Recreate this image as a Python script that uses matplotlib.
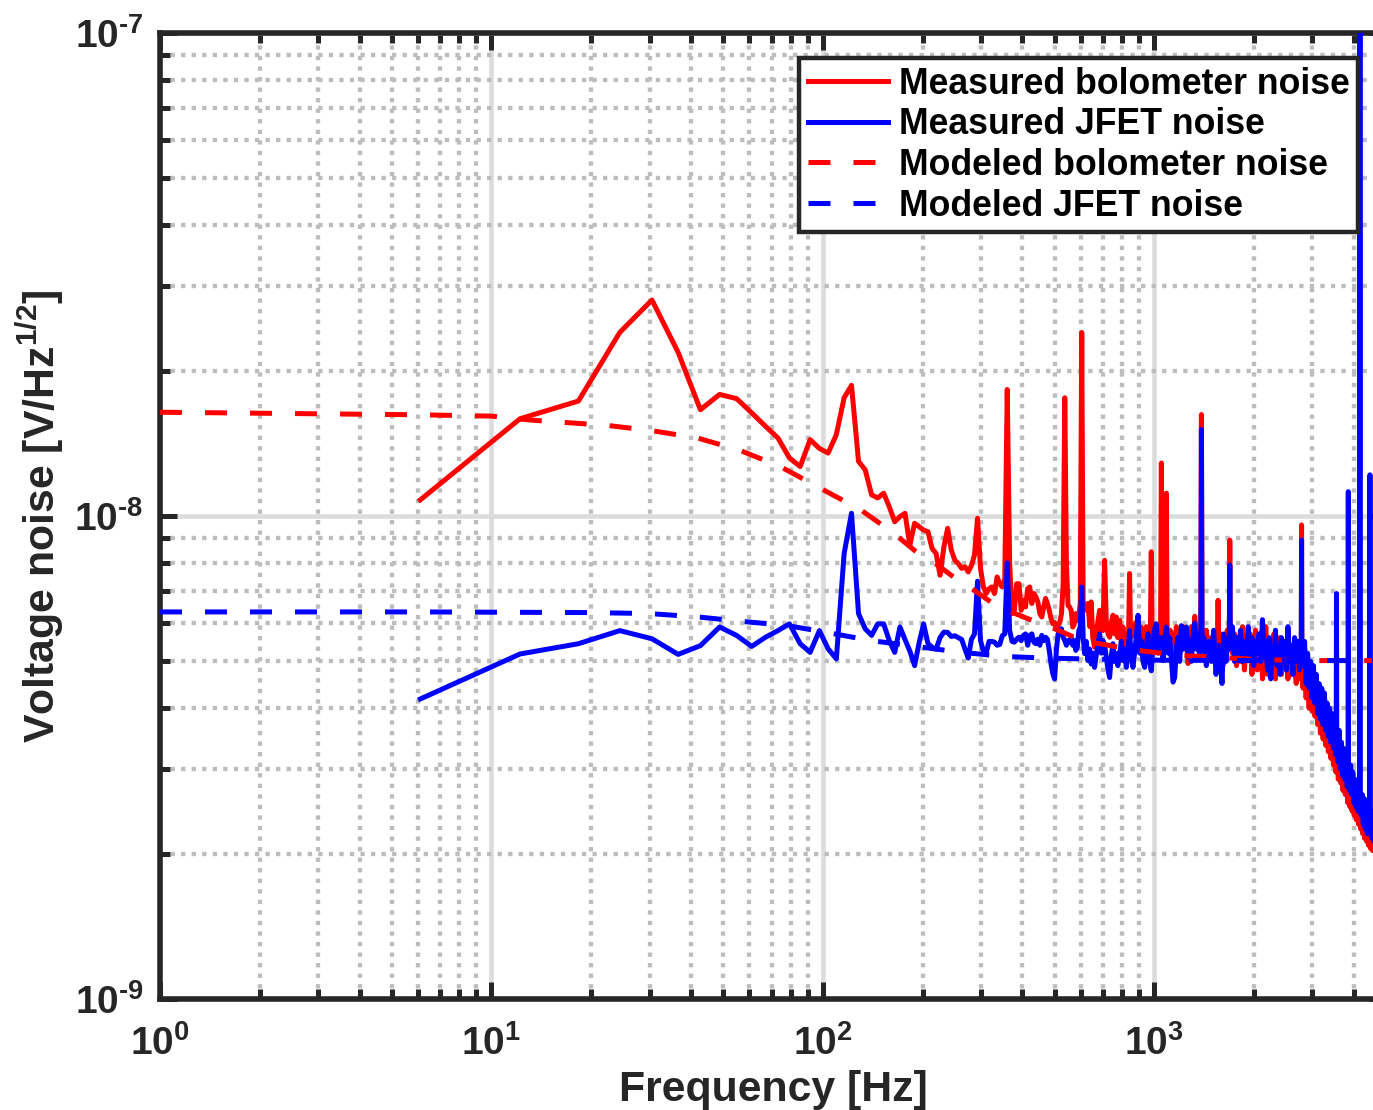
import matplotlib
matplotlib.use("Agg")
import matplotlib.pyplot as plt
import numpy as np
from matplotlib.ticker import LogLocator, NullFormatter, FuncFormatter

# ---------------- data (values in nV/sqrt(Hz)) ----------------
bolo_meas = [
    (6.1, 10.8), (12.2, 15.9), (18.3, 17.3), (24.4, 24.0), (30.5, 28.0), (36.6, 21.8),
    (42.7, 16.6), (48.8, 17.85), (54.9, 17.5), (61.0, 16.35), (67.1, 15.34), (73.2, 14.5),
    (79.3, 13.18), (85.4, 12.66), (91.5, 14.39), (97.6, 13.8), (103.7, 13.5), (109.8, 14.74),
    (115.9, 17.57), (122.0, 18.64), (128.1, 12.97), (134.2, 12.46), (140.3, 11.06), (146.4, 10.9),
    (152.5, 11.15), (158.6, 10.45), (164.7, 9.73), (170.8, 9.97), (176.9, 10.13), (183.0, 8.70),
    (189.1, 9.66), (195.2, 9.50), (201.3, 9.35), (207.4, 9.28), (213.5, 8.57), (219.6, 8.36),
    (225.7, 7.54), (231.8, 8.63), (237.9, 9.43), (244.0, 8.50), (250.1, 8.10), (256.2, 7.97),
    (262.3, 7.79), (268.4, 7.85), (274.5, 7.66), (280.6, 7.9), (286.7, 8.3), (292.8, 9.89),
    (298.9, 7.79), (305.0, 7.13), (311.1, 6.91), (317.2, 7.07), (323.3, 7.13), (329.4, 6.91),
    (335.5, 7.48), (341.6, 7.24), (347.7, 7.13), (353.8, 7.4), (359.9, 18.28), (366.0, 8.0),
    (372.1, 6.28), (378.2, 6.38), (384.3, 7.24), (390.4, 7.24), (396.5, 6.38), (402.6, 6.69),
    (408.7, 6.48), (414.8, 7.07), (420.9, 7.13), (427.0, 6.59), (433.1, 6.91), (439.2, 6.80),
    (445.3, 6.64), (451.4, 6.28), (457.5, 6.18), (463.6, 6.48), (469.7, 6.75), (475.8, 6.59),
    (481.9, 6.38), (488.0, 6.13), (494.1, 5.98), (500.2, 6.02), (506.3, 5.89), (512.4, 5.93),
    (518.5, 6.02), (524.6, 6.28), (530.7, 7.2), (536.8, 17.57), (542.9, 8.0), (549.0, 6.53),
    (555.1, 6.48), (561.2, 6.38), (567.3, 5.89), (573.4, 5.98), (579.5, 6.28), (585.6, 6.08),
    (591.7, 6.18), (597.8, 6.6), (603.9, 23.98), (610.0, 6.4),
    (616, 6.38), (630, 6.59), (639, 5.9), (645, 6.64), (652, 5.6), (660, 5.35), (672, 5.9),
    (684, 6.38), (692, 5.8), (700, 5.79), (708, 8.10), (716, 6.08), (725, 5.7), (733, 5.61),
    (741, 6.0), (750, 6.23), (758, 5.7), (768, 6.18), (776, 5.6), (786, 6.08), (795, 5.5),
    (804, 5.89), (813, 5.4), (823, 5.7), (836, 5.6), (842, 7.6), (848, 5.6), (862, 5.70),
    (877, 6.0), (893, 6.08), (903, 5.5), (913, 5.89), (924, 5.3), (935, 5.48), (946, 5.9),
    (957, 5.6), (968, 5.3), (973, 5.8), (979, 8.43), (985, 5.6), (996, 5.3), (1007, 5.8),
    (1014, 5.7), (1026, 5.4), (1038, 5.9), (1044, 5.6), (1050, 12.87), (1056, 5.5),
    (1068, 6.0), (1081, 5.7), (1087, 11.15), (1093, 5.6), (1105, 5.3), (1116, 5.8),
    (1126, 5.7), (1139, 5.2), (1152, 5.35), (1165, 5.9), (1179, 5.6), (1193, 5.2),
    (1207, 5.6), (1221, 5.9), (1235, 5.3), (1250, 5.8), (1264, 4.95), (1279, 5.4),
    (1294, 5.9), (1309, 5.3), (1324, 6.2), (1340, 5.5), (1355, 5.6), (1370, 5.2),
    (1381, 5.7), (1387, 16.22), (1393, 5.5),
    (1410, 5.3), (1435, 5.8), (1460, 5.1), (1485, 5.6), (1510, 5.0), (1535, 5.5),
    (1551, 5.2), (1557, 6.69), (1563, 5.3), (1585, 5.7), (1610, 4.9), (1635, 5.4),
    (1660, 5.8), (1683, 5.5), (1689, 8.91), (1695, 5.6), (1720, 5.2), (1745, 5.7),
    (1770, 4.9), (1795, 5.5), (1820, 5.0), (1845, 5.9), (1870, 4.8), (1895, 5.6),
    (1920, 5.1), (1945, 5.7), (1970, 4.7), (1995, 5.3), (2020, 5.8), (2045, 4.8),
    (2070, 5.4), (2095, 5.6), (2120, 4.6), (2145, 5.3), (2170, 5.9), (2195, 4.7),
    (2220, 5.2), (2245, 5.5), (2270, 4.9), (2295, 5.7), (2320, 4.6), (2345, 5.4),
    (2370, 5.1), (2395, 5.6), (2420, 4.7), (2445, 5.3), (2470, 4.9), (2500, 5.5),
    (2530, 4.6), (2560, 5.2), (2590, 4.7), (2620, 5.4), (2650, 4.9), (2680, 4.5),
    (2710, 5.0), (2740, 4.6), (2775, 4.9), (2781, 9.58), (2787, 4.8), (2810, 4.4),
    (2840, 5.0), (2870, 4.2), (2900, 4.8), (2930, 4.0), (2960, 4.6), (2990, 3.95),
    (3020, 4.5), (3050, 3.85), (3080, 4.3), (3110, 3.7), (3140, 4.2), (3170, 3.55),
    (3200, 4.1), (3230, 3.45), (3260, 4.0), (3290, 3.35), (3320, 3.8), (3350, 3.25),
    (3380, 3.7), (3410, 3.15), (3440, 3.6), (3470, 3.05), (3500, 3.5), (3530, 2.95),
    (3560, 3.4), (3590, 2.85), (3620, 3.3), (3650, 2.8), (3680, 3.2), (3710, 2.7),
    (3740, 3.1), (3770, 2.65), (3800, 3.0), (3830, 2.55), (3860, 2.9), (3890, 2.5),
    (3920, 2.8), (3950, 2.45), (3980, 2.7), (4010, 2.4), (4040, 2.65), (4070, 2.35),
    (4100, 2.6), (4130, 2.3), (4160, 2.55), (4190, 2.25), (4220, 2.5), (4250, 2.2),
    (4280, 2.45), (4310, 2.15), (4340, 2.4), (4370, 2.12), (4400, 2.35), (4430, 2.08),
    (4460, 2.3), (4490, 2.05), (4520, 2.25), (4550, 2.03), (4580, 2.2), (4610, 2.05),
    (4640, 2.3), (4660, 2.15),
]

jfet_meas = [
    (6.1, 4.18), (12.2, 5.18), (18.3, 5.44), (24.4, 5.79), (30.5, 5.57), (36.6, 5.17),
    (42.7, 5.39), (48.8, 5.89), (54.9, 5.66), (61.0, 5.37), (67.1, 5.61), (73.2, 5.79),
    (79.3, 5.98), (85.4, 5.44), (91.5, 5.22), (97.6, 5.79), (103.7, 5.31), (109.8, 5.06),
    (115.9, 8.36), (122.0, 10.13), (128.1, 6.28), (134.2, 5.84), (140.3, 5.66), (146.4, 5.98),
    (152.5, 5.98), (158.6, 5.52), (164.7, 5.22), (170.8, 5.89), (176.9, 5.55), (183.0, 5.25),
    (189.1, 4.90), (195.2, 5.47), (201.3, 5.98), (207.4, 5.45), (213.5, 5.35), (219.6, 5.3),
    (225.7, 5.6), (231.8, 5.75), (237.9, 5.74), (244.0, 5.63), (250.1, 5.65), (256.2, 5.6),
    (262.3, 5.55), (268.4, 5.3), (274.5, 5.08), (280.6, 5.55), (286.7, 5.7), (292.8, 7.33),
    (298.9, 5.52), (305.0, 5.25), (311.1, 5.22), (317.2, 5.5), (323.3, 5.5), (329.4, 5.48),
    (335.5, 5.4), (341.6, 5.42), (347.7, 5.65), (353.8, 5.7), (359.9, 8.0), (366.0, 5.8),
    (372.1, 5.5), (378.2, 5.48), (384.3, 5.56), (390.4, 5.61), (396.5, 5.52), (402.6, 5.66),
    (408.7, 5.70), (414.8, 5.40), (420.9, 5.66), (427.0, 5.70), (433.1, 5.48), (439.2, 5.44),
    (445.3, 5.56), (451.4, 5.40), (457.5, 5.66), (463.6, 5.52), (469.7, 5.61), (475.8, 5.56),
    (481.9, 5.27), (488.0, 4.94), (494.1, 4.71), (500.2, 4.60), (506.3, 5.27), (512.4, 5.70),
    (518.5, 5.79), (524.6, 5.84), (530.7, 5.61), (536.8, 5.52), (542.9, 5.40), (549.0, 5.52),
    (555.1, 5.48), (561.2, 5.61), (567.3, 5.40), (573.4, 5.52), (579.5, 5.27), (585.6, 5.35),
    (591.7, 5.79), (597.8, 5.9), (603.9, 7.13), (610.0, 5.61),
    (616, 5.19), (623, 5.5), (630, 5.02), (638, 5.3), (645, 4.94), (652, 5.2), (660, 4.86),
    (672, 5.3), (684, 5.70), (692, 5.2), (700, 5.52), (708, 5.4), (716, 5.10), (725, 4.8),
    (733, 4.63), (741, 5.1), (750, 5.44), (758, 5.0), (768, 5.19), (776, 4.9), (786, 5.19),
    (795, 5.5), (804, 5.02), (813, 5.3), (823, 4.86), (832, 5.2), (842, 5.79), (852, 5.1),
    (862, 4.86), (877, 5.4), (893, 6.23), (903, 5.2), (913, 5.52), (924, 5.0), (935, 4.86),
    (946, 5.4), (957, 5.70), (968, 5.0), (979, 4.78), (990, 5.4), (1000, 5.8), (1014, 5.98),
    (1026, 5.2), (1038, 5.35), (1050, 5.6), (1062, 5.02), (1075, 5.5), (1087, 5.89),
    (1100, 5.2), (1113, 5.6), (1126, 5.02), (1139, 4.53), (1152, 4.63), (1165, 5.3),
    (1179, 5.61), (1193, 5.0), (1207, 5.93), (1221, 5.3), (1235, 5.5), (1250, 5.89),
    (1264, 5.1), (1279, 5.52), (1294, 5.0), (1309, 5.7), (1324, 6.0), (1340, 5.3),
    (1355, 5.7), (1370, 5.1), (1381, 5.4), (1387, 15.1), (1393, 5.3),
    (1410, 5.6), (1435, 4.9), (1460, 5.5), (1485, 5.0), (1510, 5.8), (1535, 4.7),
    (1560, 5.4), (1585, 5.1), (1600, 4.5), (1620, 5.7), (1645, 5.0), (1665, 5.5),
    (1683, 5.3), (1689, 7.91), (1695, 5.4), (1720, 5.9), (1745, 5.0), (1770, 5.6),
    (1795, 5.2), (1820, 5.8), (1845, 5.0), (1870, 5.5), (1895, 5.2), (1920, 5.9),
    (1945, 5.1), (1970, 5.6), (1995, 4.9), (2020, 5.5), (2045, 5.2), (2070, 5.7),
    (2095, 5.0), (2120, 6.1), (2145, 5.1), (2170, 5.5), (2195, 4.8), (2220, 5.6),
    (2245, 4.6), (2270, 5.4), (2295, 5.0), (2320, 5.8), (2345, 4.9), (2370, 5.3),
    (2395, 4.7), (2420, 5.6), (2445, 5.0), (2470, 5.5), (2500, 4.8), (2530, 5.9),
    (2560, 5.0), (2590, 5.4), (2620, 4.7), (2650, 5.6), (2680, 5.1), (2710, 5.5),
    (2740, 4.8), (2775, 5.0), (2781, 8.91), (2787, 5.3), (2810, 4.9), (2840, 5.5),
    (2870, 4.5), (2900, 5.2), (2930, 4.4), (2960, 5.0), (2990, 4.2), (3020, 4.9),
    (3050, 4.1), (3080, 4.7), (3110, 3.9), (3140, 4.5), (3170, 3.8), (3200, 4.4),
    (3230, 3.7), (3260, 4.3), (3290, 3.6), (3320, 4.1), (3350, 3.5), (3380, 4.0),
    (3410, 3.4), (3440, 3.9), (3470, 3.3), (3500, 3.8), (3530, 3.2), (3539, 3.9),
    (3545, 6.91), (3551, 3.6), (3580, 3.1), (3610, 3.6), (3640, 3.0), (3670, 3.4),
    (3700, 2.9), (3730, 3.3), (3760, 2.85), (3790, 3.2), (3820, 2.75), (3842, 3.1),
    (3848, 11.23), (3854, 3.0), (3880, 2.7), (3910, 3.05), (3940, 2.65), (3970, 2.95),
    (4000, 2.55), (4030, 2.85), (4060, 2.5), (4090, 2.8), (4120, 2.45), (4150, 2.7),
    (4166, 2.6), (4172, 200.0), (4178, 2.6), (4210, 2.4), (4240, 2.65), (4270, 2.3),
    (4300, 2.6), (4330, 2.25), (4360, 2.55), (4390, 2.2), (4420, 2.5), (4466, 2.4),
    (4472, 12.17), (4478, 2.3), (4510, 2.45), (4540, 2.15), (4570, 2.4), (4600, 2.12),
    (4630, 2.3), (4660, 2.18),
]

bolo_model = [
    (1, 16.4), (6.1, 16.2), (10, 16.1), (13.1, 15.8), (22.4, 15.4), (30.9, 15.0),
    (41.9, 14.5), (55.8, 13.7), (74.5, 12.65), (98.6, 11.4), (130, 10.3), (164, 9.2),
    (194, 8.36), (222, 7.91), (251, 7.43), (285, 7.03), (325, 6.6), (374, 6.31),
    (428, 6.08), (489, 5.88), (574, 5.61), (645, 5.48), (781, 5.35), (893, 5.27),
    (1050, 5.2), (1207, 5.14), (1410, 5.12), (1620, 5.09), (2000, 5.05), (2700, 5.02),
    (3700, 5.02), (4700, 5.02),
]

jfet_model = [
    (1, 6.33), (6.1, 6.33), (20, 6.31), (30, 6.28), (42, 6.18), (57, 6.05), (77, 5.94),
    (100, 5.76), (140, 5.52), (180, 5.40), (250, 5.24), (350, 5.12), (470, 5.08),
    (700, 5.05), (1000, 5.03), (2000, 5.02), (4700, 5.02),
]

legend_labels = ["Measured bolometer noise", "Measured JFET noise",
                 "Modeled bolometer noise", "Modeled JFET noise"]
x_label = "Frequency [Hz]"
y_label = "Voltage noise [V/Hz$^{1/2}$]"

# ---------------- style ----------------
plt.rcParams['font.family'] = ['Liberation Sans', 'DejaVu Sans']
plt.rcParams['font.weight'] = 'bold'
plt.rcParams['mathtext.fontset'] = 'custom'
plt.rcParams['mathtext.rm'] = 'Liberation Sans:bold'
plt.rcParams['mathtext.it'] = 'Liberation Sans:bold'
plt.rcParams['mathtext.bf'] = 'Liberation Sans:bold'
plt.rcParams['mathtext.default'] = 'rm'
plt.rcParams['axes.unicode_minus'] = False

DARK = '#262626'
fig = plt.figure(figsize=(13.73, 11.10), dpi=100)
W, H = 1373.0, 1110.0
ax = fig.add_axes([160 / W, 111 / H, 1226 / W, 966 / H])

def unzip(pairs):
    f = np.array([p[0] for p in pairs], dtype=float)
    v = np.array([p[1] for p in pairs], dtype=float) * 1e-9
    return f, v

lw = 3.6
dash = (4.4, 4.6)
f, v = unzip(bolo_meas)
ax.plot(f, v, color='#ff0000', lw=lw, label=legend_labels[0], zorder=3)
f, v = unzip(jfet_meas)
ax.plot(f, v, color='#0000ff', lw=lw, label=legend_labels[1], zorder=3)
f, v = unzip(bolo_model)
ax.plot(f, v, color='#ff0000', lw=lw, dashes=dash, label=legend_labels[2], zorder=3)
f, v = unzip(jfet_model)
ax.plot(f, v, color='#0000ff', lw=lw, dashes=dash, label=legend_labels[3], zorder=3)

ax.set_xscale('log')
ax.set_yscale('log')
ax.set_xlim(1, 5000)
ax.set_ylim(1e-9, 1e-7)

def pow10(val, pos):
    e = int(round(np.log10(val)))
    if e < 0:
        return r'$\mathdefault{10^{' + '\u2010' + str(-e) + '}}$'
    return r'$\mathdefault{10^{' + str(e) + '}}$'

ax.xaxis.set_major_locator(LogLocator(base=10, numticks=10))
ax.xaxis.set_minor_locator(LogLocator(base=10, subs=np.arange(2, 10), numticks=20))
ax.yaxis.set_major_locator(LogLocator(base=10, numticks=10))
ax.yaxis.set_minor_locator(LogLocator(base=10, subs=np.arange(2, 10), numticks=20))
ax.xaxis.set_major_formatter(FuncFormatter(pow10))
ax.yaxis.set_major_formatter(FuncFormatter(pow10))
ax.xaxis.set_minor_formatter(NullFormatter())
ax.yaxis.set_minor_formatter(NullFormatter())

ax.grid(True, which='major', color='#dcdcdc', lw=3.3, ls='-', zorder=0)
ax.grid(True, which='minor', color='#bdbdbd', lw=3.1, ls=(0, (1, 1.45)), zorder=0)
ax.set_axisbelow(True)

for s in ax.spines.values():
    s.set_linewidth(4.0)
    s.set_color(DARK)

ax.tick_params(which='both', direction='in', top=True, right=True,
               color=DARK, width=3.6, labelcolor=DARK, labelsize=28)
ax.tick_params(which='major', length=12)
ax.tick_params(which='minor', length=7)
ax.tick_params(axis='x', which='major', pad=19)
ax.tick_params(axis='y', which='major', pad=12)

ax.set_xlabel(x_label, fontsize=30.8, fontweight='bold', color=DARK)
ax.set_ylabel(y_label, fontsize=30.8, fontweight='bold', color=DARK)
ax.xaxis.set_label_coords(0.5, -0.073)
ax.yaxis.set_label_coords(-0.077, 0.5)

leg = ax.legend(loc='upper right', bbox_to_anchor=(1358 / W, 1 - 58 / H),
                bbox_transform=fig.transFigure, borderaxespad=0,
                fontsize=25.7, handlelength=2.25, handletextpad=0.3,
                labelspacing=0.16, borderpad=0.24, fancybox=False, framealpha=1)
leg.get_frame().set_edgecolor(DARK)
leg.get_frame().set_linewidth(3.2)
for t in leg.get_texts():
    t.set_color('black')
    t.set_fontweight('bold')

fig.savefig('out.png', dpi=100)
